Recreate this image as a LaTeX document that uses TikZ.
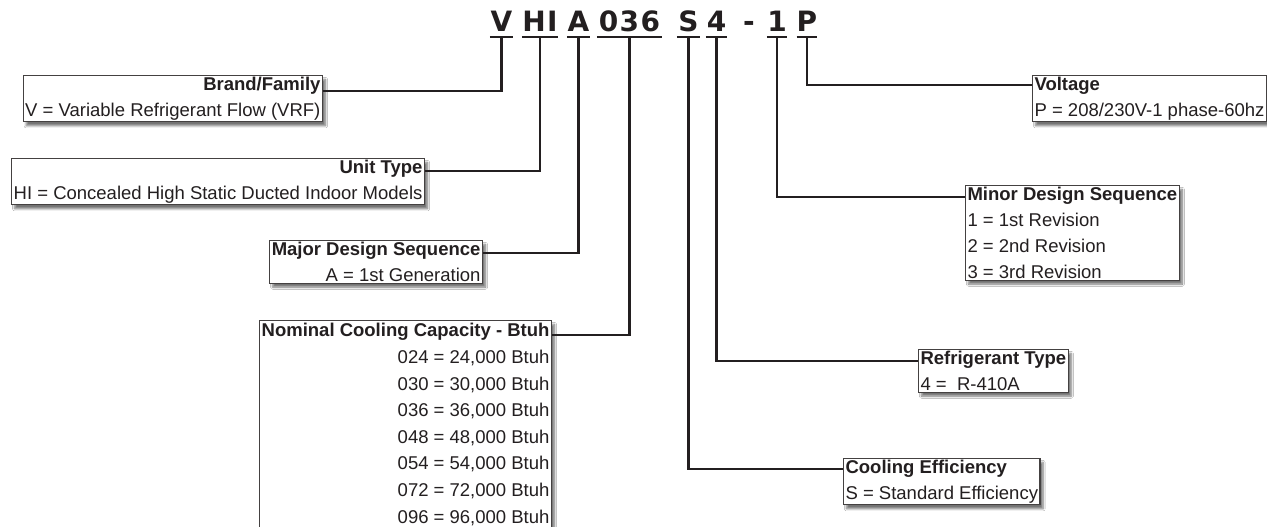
\documentclass[tikz,border=0pt]{standalone}
\usepackage{fontspec}
\setmainfont{Liberation Sans}
\newfontfamily\codefont[LetterSpace=5]{DejaVu Sans}
\usetikzlibrary{shadows.blur}
\definecolor{ink}{HTML}{231F20}
\begin{document}
\begin{tikzpicture}[x=1pt,y=-1pt,
    codechar/.style={font=\codefont\bfseries\fontsize{28}{28}\selectfont, text=ink, inner sep=0pt, anchor=base},
    uline/.style={ink, line width=2.4pt},
    conn/.style={ink, line width=2.4pt},
    infobox/.style={draw=ink!85, line width=1.1pt, fill=white, inner xsep=2pt, inner ysep=1.5pt, text=ink,
        font=\fontsize{18.5}{26}\selectfont,
        blur shadow={shadow xshift=3pt, shadow yshift=-4pt, shadow blur steps=6, shadow opacity=55}},
    lbox/.style={infobox, align=right, anchor=north east},
    rbox/.style={infobox, align=left, anchor=north west}]
    \fill [white] (0,0) rectangle (1267,527);
    \useasboundingbox (0,0) rectangle (1267,527);
    % model number
    \node [codechar, minimum width=23] (cV) at (501.5,32) {V};
    \node [codechar, minimum width=36] (cHI) at (540,32) {HI};
    \node [codechar, minimum width=23] (cA) at (578.5,32) {A};
    \node [codechar, minimum width=65] (cCap) at (629.5,32) {036};
    \node [codechar, minimum width=23] (cS) at (688.5,32) {S};
    \node [codechar, minimum width=21] (cRef) at (716.5,32) {4};
    \node [codechar] (cDash) at (749,32) {-};
    \node [codechar, minimum width=20] (cMin) at (777,32) {1};
    \node [codechar, minimum width=20] (cP) at (807,32) {P};
    \foreach \c in {cV,cHI,cA,cCap,cS,cRef,cMin,cP}
        \draw [uline] ([yshift=-5pt]\c.base west) -- ([yshift=-5pt]\c.base east);
    % left boxes
    \node [lbox] (brand) at (323,75) {\textbf{Brand/Family}\\V = Variable Refrigerant Flow (VRF)};
    \node [lbox] (unit) at (425,158) {\textbf{Unit Type}\\HI = Concealed High Static Ducted Indoor Models};
    \node [lbox] (major) at (483,240) {\textbf{Major Design Sequence}\\A = 1st Generation};
    \node [lbox, inner ysep=3pt, font=\fontsize{18.5}{26.6}\selectfont] (nominal) at (552,320) {\textbf{Nominal Cooling Capacity - Btuh}\\
        024 = 24,000 Btuh\\030 = 30,000 Btuh\\036 = 36,000 Btuh\\048 = 48,000 Btuh\\
        054 = 54,000 Btuh\\072 = 72,000 Btuh\\096 = 96,000 Btuh};
    % right boxes
    \node [rbox] (voltage) at (1032,75) {\textbf{Voltage}\\P = 208/230V-1 phase-60hz};
    \node [rbox] (minor) at (965,185) {\textbf{Minor Design Sequence}\\1 = 1st Revision\\2 = 2nd Revision\\3 = 3rd Revision};
    \node [rbox] (refrig) at (918,349) {\textbf{Refrigerant Type}\\4 =\ \ R-410A};
    \node [rbox] (cooling) at (843,458) {\textbf{Cooling Efficiency}\\S = Standard Efficiency};
    % connectors
    \draw [conn] ([yshift=-5pt]cV.base) |- ([yshift=-16pt]brand.north east);
    \draw [conn] ([yshift=-5pt]cHI.base) |- ([yshift=-13pt]unit.north east);
    \draw [conn] ([yshift=-5pt]cA.base) |- ([yshift=-13pt]major.north east);
    \draw [conn] ([yshift=-5pt]cCap.base) |- ([yshift=-15pt]nominal.north east);
    \draw [conn] ([yshift=-5pt]cP.base) |- ([yshift=-10pt]voltage.north west);
    \draw [conn] ([yshift=-5pt]cMin.base) |- ([yshift=-12pt]minor.north west);
    \draw [conn] ([yshift=-5pt]cRef.base) |- ([yshift=-12pt]refrig.north west);
    \draw [conn] ([yshift=-5pt]cS.base) |- ([yshift=-11pt]cooling.north west);
\end{tikzpicture}
\end{document}
